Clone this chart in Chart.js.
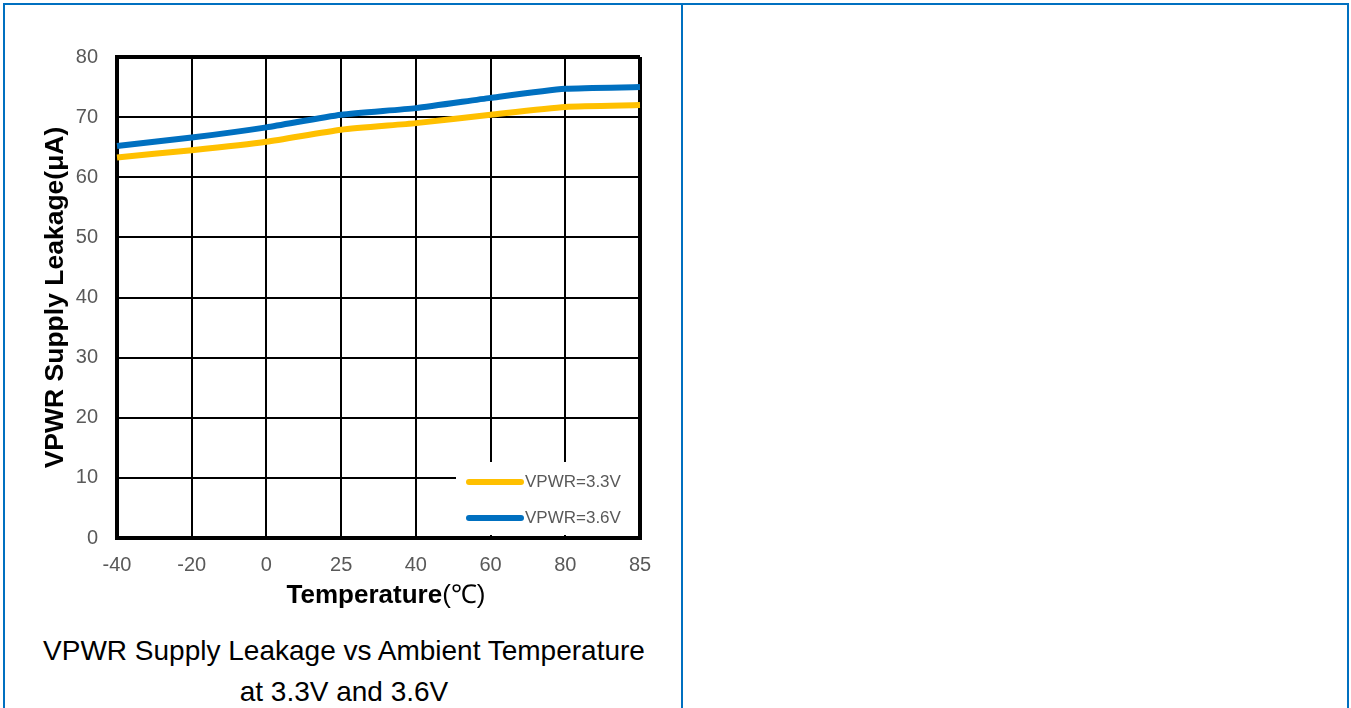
<!DOCTYPE html>
<html>
<head>
<meta charset="utf-8">
<script src="https://cdn.jsdelivr.net/npm/chart.js@4"></script>
<style>
  html, body { margin: 0; padding: 0; background: #fff; width: 1351px; height: 708px; overflow: hidden; }
  .frame { position: absolute; left: 3px; top: 3px; width: 1346px; height: 760px; border: 2px solid #0070C0; box-sizing: border-box; }
  .divider { position: absolute; left: 681px; top: 3px; width: 2px; height: 760px; background: #0070C0; }
  #chartBox { position: absolute; left: 0; top: 0; width: 680px; height: 600px; }
  .xtitle { position: absolute; left: 0; width: 772px; top: 578px; text-align: center; font-family: "Liberation Sans", Arial, sans-serif; font-size: 26px; color: #000; line-height: 32px; }
  .xtitle b { font-weight: bold; }
  .caption { position: absolute; left: 3px; width: 682px; top: 630px; text-align: center; font-family: "Liberation Sans", Arial, sans-serif; font-size: 28px; color: #000; line-height: 41px; }
</style>
</head>
<body>
<div class="frame"></div>
<div class="divider"></div>
<div id="chartBox"><canvas id="c" width="680" height="600"></canvas></div>
<div class="xtitle"><b>Temperature</b>(℃)</div>
<div class="caption">VPWR Supply Leakage vs Ambient Temperature<br>at 3.3V and 3.6V</div>
<script>
// Ambient temperature points (°C)
const temperatures = ['-40', '-20', '0', '25', '40', '60', '80', '85'];
// Supply leakage (µA) at each temperature
const leakage33 = [63.3, 64.5, 65.9, 67.9, 69.0, 70.4, 71.7, 72.0];
const leakage36 = [65.2, 66.6, 68.3, 70.4, 71.5, 73.2, 74.7, 75.0];
const seriesNames = ['VPWR=3.3V', 'VPWR=3.6V'];
const yTicks = [0, 10, 20, 30, 40, 50, 60, 70, 80];

const FONT = '"Liberation Sans", Arial, sans-serif';

// Legend drawn inside the plot, lower right, on a white panel
const insideLegend = {
  id: 'insideLegend',
  afterDatasetsDraw(chart) {
    const { ctx, chartArea } = chart;
    const x0 = chartArea.right - 184, y0 = chartArea.bottom - 76;
    ctx.save();
    ctx.fillStyle = '#fff';
    ctx.fillRect(x0, y0, 182, 73);
    ctx.lineCap = 'round';
    ctx.font = '17px ' + FONT;
    ctx.textBaseline = 'middle';
    chart.data.datasets.forEach((ds, i) => {
      const y = y0 + 20 + i * 36;
      ctx.strokeStyle = ds.borderColor;
      ctx.lineWidth = 6;
      ctx.beginPath();
      ctx.moveTo(x0 + 13, y);
      ctx.lineTo(x0 + 65, y);
      ctx.stroke();
      ctx.fillStyle = '#595959';
      ctx.fillText(ds.label, x0 + 69, y);
    });
    ctx.restore();
  }
};

const edgeWidth = (ctx, n) => (ctx.index === 0 || ctx.index === n - 1) ? 4 : 2;

new Chart(document.getElementById('c'), {
  type: 'line',
  data: {
    labels: temperatures,
    datasets: [
      { label: seriesNames[0], data: leakage33, borderColor: '#FFC000', borderWidth: 6, pointRadius: 0, tension: 0.2 },
      { label: seriesNames[1], data: leakage36, borderColor: '#0070C0', borderWidth: 6, pointRadius: 0, tension: 0.2 }
    ]
  },
  options: {
    responsive: false,
    animation: false,
    devicePixelRatio: 1,
    layout: { padding: { left: 0, top: 57, right: 40, bottom: 17 } },
    plugins: { legend: { display: false }, tooltip: { enabled: false } },
    scales: {
      x: {
        type: 'category',
        offset: false,
        grid: { color: '#000', lineWidth: (c) => edgeWidth(c, temperatures.length), drawTicks: false },
        border: { color: '#000', width: 4 },
        ticks: { color: '#595959', font: { family: FONT, size: 20 }, padding: 15, maxRotation: 0 },
        afterFit(scale) { scale.height = 45; }
      },
      y: {
        min: 0, max: 80,
        afterBuildTicks(scale) { scale.ticks = yTicks.map(v => ({ value: v })); },
        grid: { color: '#000', lineWidth: (c) => edgeWidth(c, yTicks.length), drawTicks: false },
        border: { color: '#000', width: 4 },
        ticks: { color: '#595959', font: { family: FONT, size: 20 }, padding: 19 },
        title: { display: true, text: 'VPWR Supply Leakage(μA)', color: '#000', font: { family: FONT, size: 26.5, weight: 'bold' }, padding: { top: 40 } },
        afterFit(scale) { scale.width = 117; }
      }
    }
  },
  plugins: [insideLegend]
});
</script>
</body>
</html>
